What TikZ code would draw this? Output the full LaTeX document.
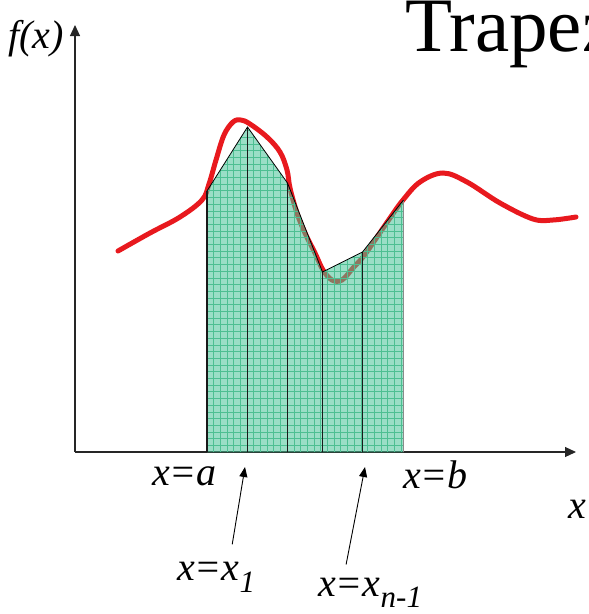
\documentclass[tikz,border=0pt]{standalone}
\usepackage{fontspec}
\setmainfont{Liberation Serif}
\usetikzlibrary{arrows.meta,calc}
\definecolor{CurveRed}{HTML}{E8191E}
\definecolor{TrapFill}{HTML}{47C397}
\definecolor{TrapGrid}{HTML}{4DBF92}

\begin{document}
\begin{tikzpicture}[x=1pt,y=-1pt,
  lab/.style={inner sep=0pt,anchor=base west,font=\fontsize{40}{40}\selectfont\itshape},
  axis/.style={line width=1.2pt,draw=black!85,-{Triangle[length=11pt,width=10pt]}},
  pointer/.style={line width=0.9pt,-{Triangle[length=10pt,width=8pt]}},
  fcurve/.style={CurveRed,line width=5pt,line cap=round},
  strip/.style={line width=1.5pt,draw=black!90}]
  \useasboundingbox (0,0) rectangle (589,614);
  \clip (0,0) rectangle (589,614);

  % axes
  \coordinate (O) at (75,452);
  \coordinate (ytop) at (75,25);
  \coordinate (xend) at (576,452);
  \draw[axis] (O) -- (ytop);
  \draw[axis] (O) -- (xend);

  % the function
  \draw[fcurve] plot[smooth,tension=0.6] coordinates {(118,251) (150,233) (180,217) (202,200)
    (209,184) (216,160) (224,135) (233,122) (241,120) (250,124) (267,137) (280,152) (287,170)
    (290,188) (297,213) (305,233) (315,253) (323,270) (332,280) (342,280) (353,268) (363,257)
    (375,240) (390,218) (403,200) (420,182) (443,173) (467,182) (500,203) (533,219) (553,220) (576,217)};

  % trapezoids
  \foreach \i/\xx/\yy in {0/207/191, 1/247.5/127, 2/287.5/183, 3/322.5/272, 4/362.5/252, 5/403.5/200}{
    \coordinate (p\i) at (\xx,\yy);
    \coordinate (b\i) at (\xx,452);
  }
  \fill[TrapFill,fill opacity=0.55] (b0) -- (p0) -- (p1) -- (p2) -- (p3) -- (p4) -- (p5) -- (b5) -- cycle;
  \begin{scope}
    \clip (b0) -- (p0) -- (p1) -- (p2) -- (p3) -- (p4) -- (p5) -- (b5) -- cycle;
    \foreach \k in {0,...,31}{
      \draw[TrapGrid,line width=0.6pt] (200+6.7*\k,110) -- (200+6.7*\k,452);
      \draw[TrapGrid,line width=0.6pt] (200,452-6.7*\k) -- (410,452-6.7*\k);
    }
    \foreach \k in {32,...,51}
      \draw[TrapGrid,line width=0.6pt] (200,452-6.7*\k) -- (410,452-6.7*\k);
  \end{scope}
  \foreach \i in {0,...,4}
    \draw[strip] (b\i) -- (p\i);
  \draw[strip,draw=black!45] (b5) -- (p5);
  \draw[line width=0.8pt] (p0) -- (p1) -- (p2) -- (p3) -- (p4) -- (p5);

  % labels
  \node[inner sep=0pt,anchor=base west,font=\fontsize{77}{77}\selectfont] (title) at (405,51) {Trapez};
  \node[lab] (fx) at (8,48) {f(x)};
  \node[lab] (xlab) at (568,518) {x};
  \node[lab] (xa) at (152,485) {x=a};
  \node[lab] (xb) at (403,488) {x=b};
  \node[lab] (xone) at (177,580) {x=x\raisebox{-12pt}{\fontsize{31}{31}\selectfont 1}};
  \node[lab] (xlast) at (318,596) {x=x\raisebox{-11pt}{\fontsize{31}{31}\selectfont n-1}};

  % pointers
  \coordinate (h1) at (245,467);
  \coordinate (hn) at (365,467);
  \draw[pointer] ([xshift=16pt,yshift=17pt]xone.north) -- (h1);
  \draw[pointer] ([xshift=-24pt,yshift=13pt]xlast.north) -- (hn);
\end{tikzpicture}
\end{document}
